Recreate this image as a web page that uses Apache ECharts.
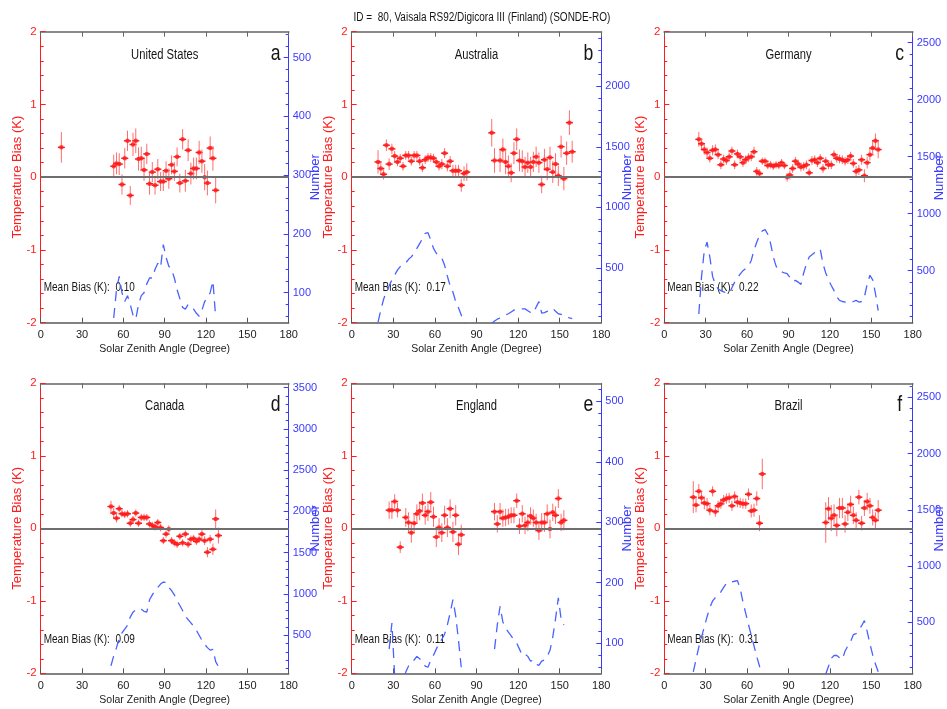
<!DOCTYPE html>
<html>
<head>
<meta charset="utf-8">
<script src="https://cdn.jsdelivr.net/npm/echarts@6/dist/echarts.min.js"></script>
<style>
  html, body { margin: 0; padding: 0; background: #ffffff; }
  #chart { width: 947px; height: 709px; }
</style>
</head>
<body>
<div id="chart"></div>
<script>
// ---- Figure text ----
const figureTitle = 'ID =  80, Vaisala RS92/Digicora III (Finland) (SONDE-RO)';
const panelNames = ['United States', 'Australia', 'Germany', 'Canada', 'England', 'Brazil'];
const panelLetters = ['a', 'b', 'c', 'd', 'e', 'f'];
const meanBias = ['0.10', '0.17', '0.22', '0.09', '0.11', '0.31'];

// ---- United States ----
const usAngle = [15, 53, 55, 57, 59, 61, 63, 65, 67, 69, 71, 73, 75, 77, 79, 81, 83, 85, 87, 89, 91, 93, 95, 97, 99, 101, 103, 105, 107, 109, 111, 113, 115, 117, 119, 121, 123, 125, 127];
const usBias = [0.41, 0.15, 0.19, 0.18, -0.10, 0.26, 0.50, -0.25, 0.45, 0.50, 0.25, 0.26, 0.10, 0.32, -0.09, 0.07, -0.11, 0.11, -0.06, -0.06, 0.09, -0.02, 0.17, 0.08, 0.28, -0.08, 0.52, -0.05, 0.37, 0.05, 0.12, 0.12, 0.34, 0.22, 0.00, -0.08, 0.40, 0.26, -0.18];
const usErr = [0.21, 0.16, 0.15, 0.15, 0.14, 0.14, 0.14, 0.13, 0.16, 0.17, 0.16, 0.16, 0.15, 0.14, 0.15, 0.14, 0.13, 0.14, 0.13, 0.13, 0.13, 0.14, 0.13, 0.13, 0.13, 0.13, 0.14, 0.15, 0.15, 0.15, 0.15, 0.15, 0.16, 0.16, 0.18, 0.17, 0.16, 0.17, 0.18];
const usNumAngle = [53, 55, 57, 59, 61, 63, 65, 67, 69, 71, 73, 75, 77, 79, 81, 83, 85, 87, 89, 91, 93, 95, 97, 99, 101, 103, 105, 107, 109, 111, 113, 115, 117, 119, 121, 123, 125, 127];
const usNum = [57, 105, 128, 100, 85, 95, 80, 62, 55, 80, 95, 100, 115, 125, 125, 140, 150, 143, 182, 160, 145, 140, 125, 105, 90, 75, 72, 80, 75, 72, 65, 60, 70, 85, 92, 100, 120, 58];
const usNumTicks = [100, 200, 300, 400, 500];
const usNumRange = [49, 544];

// ---- Australia ----
const ausAngle = [19, 21, 23, 25, 27, 29, 31, 33, 35, 37, 39, 41, 43, 45, 47, 49, 51, 53, 55, 57, 59, 61, 63, 65, 67, 69, 71, 73, 75, 77, 79, 81, 83,
  101, 103, 107, 109, 111, 113, 115, 117, 119, 121, 123, 125, 127, 129, 131, 133, 135, 137, 139, 141, 143, 145, 147, 149, 151, 153, 155, 157, 159];
const ausBias = [0.21, 0.12, 0.04, 0.44, 0.18, 0.39, 0.29, 0.21, 0.26, 0.15, 0.30, 0.30, 0.22, 0.30, 0.30, 0.22, 0.13, 0.24, 0.27, 0.27, 0.26, 0.21, 0.15, 0.18, 0.33, 0.15, 0.22, 0.09, 0.09, 0.09, -0.11, 0.05, 0.07,
  0.61, 0.23, 0.23, 0.38, 0.21, 0.15, 0.06, 0.33, 0.52, 0.23, 0.22, 0.14, 0.20, 0.14, 0.21, 0.28, 0.20, -0.10, 0.24, 0.11, 0.27, 0.07, 0.18, 0.02, 0.42, -0.02, 0.33, 0.75, 0.35];
const ausErr = [0.16, 0.09, 0.07, 0.08, 0.08, 0.07, 0.07, 0.06, 0.06, 0.06, 0.06, 0.06, 0.06, 0.06, 0.06, 0.06, 0.06, 0.06, 0.06, 0.06, 0.06, 0.06, 0.06, 0.07, 0.07, 0.07, 0.07, 0.08, 0.08, 0.08, 0.09, 0.10, 0.12,
  0.19, 0.17, 0.16, 0.15, 0.17, 0.15, 0.13, 0.15, 0.15, 0.15, 0.15, 0.14, 0.14, 0.14, 0.14, 0.14, 0.14, 0.12, 0.15, 0.15, 0.15, 0.15, 0.15, 0.14, 0.15, 0.16, 0.16, 0.17, 0.15];
const ausNumAngle = [19, 21, 23, 25, 27, 29, 31, 33, 35, 37, 39, 41, 43, 45, 47, 49, 51, 53, 55, 57, 59, 61, 63, 65, 67, 69, 71, 73, 75, 77, 79, 81, 83, 92,
  101, 103, 105, 107, 109, 111, 113, 115, 117, 119, 121, 123, 125, 127, 129, 131, 133, 135, 137, 139, 141, 143, 145, 147, 149, 151, 153, 155, 157, 159];
const ausNum = [50, 150, 240, 300, 350, 400, 440, 480, 510, 520, 540, 570, 590, 620, 660, 700, 740, 785, 790, 730, 660, 620, 600, 580, 520, 430, 350, 300, 220, 170, 110, 50, 20, null,
  40, 60, 75, 85, 100, 110, 120, 135, 150, 155, 155, 160, 160, 145, 130, 125, 175, 220, 125, 130, 140, 150, 165, 140, 120, 115, 100, 95, 85, 80];
const ausNumTicks = [500, 1000, 1500, 2000];
const ausNumRange = [46, 2451];

// ---- Germany ----
const gerAngle = [25, 27, 29, 31, 33, 35, 37, 39, 41, 43, 45, 47, 49, 51, 53, 55, 57, 59, 61, 63, 65, 67, 69, 71, 73, 75, 77, 79, 81, 83, 85, 87, 89, 91, 93, 95, 97, 99, 101, 103, 105, 107, 109, 111, 113, 115, 117, 119, 121, 123, 125, 127, 129, 131, 133, 135, 137, 139, 141, 143, 145, 147, 149, 151, 153, 155];
const gerBias = [0.52, 0.46, 0.38, 0.34, 0.26, 0.37, 0.38, 0.31, 0.17, 0.25, 0.23, 0.28, 0.36, 0.17, 0.32, 0.28, 0.20, 0.24, 0.27, 0.28, 0.35, 0.08, 0.05, 0.22, 0.22, 0.16, 0.17, 0.15, 0.17, 0.16, 0.20, 0.16, 0.00, 0.03, 0.12, 0.22, 0.18, 0.14, 0.15, 0.17, 0.06, 0.23, 0.24, 0.20, 0.26, 0.12, 0.22, 0.17, 0.17, 0.31, 0.26, 0.25, 0.24, 0.22, 0.24, 0.29, 0.19, 0.08, 0.10, 0.24, 0.02, 0.20, 0.31, 0.40, 0.50, 0.38];
const gerErr = [0.10, 0.08, 0.07, 0.07, 0.06, 0.07, 0.07, 0.06, 0.06, 0.06, 0.06, 0.06, 0.06, 0.06, 0.06, 0.06, 0.06, 0.06, 0.06, 0.06, 0.07, 0.06, 0.06, 0.05, 0.05, 0.05, 0.05, 0.05, 0.05, 0.05, 0.05, 0.05, 0.06, 0.06, 0.06, 0.06, 0.06, 0.06, 0.06, 0.06, 0.06, 0.06, 0.06, 0.06, 0.06, 0.06, 0.06, 0.06, 0.06, 0.06, 0.06, 0.06, 0.06, 0.06, 0.06, 0.06, 0.06, 0.07, 0.07, 0.07, 0.09, 0.08, 0.08, 0.09, 0.10, 0.12];
const gerNumAngle = gerAngle;
const gerNum = [120, 450, 680, 750, 620, 450, 380, 340, 325, 315, 305, 300, 350, 400, 440, 470, 500, 520, 540, 590, 680, 750, 810, 850, 860, 820, 740, 620, 540, 500, 490, 480, 475, 440, 405, 415, 400, 380, 480, 560, 620, 640, 660, 680, 688, 560, 480, 420, 370, 325, 270, 240, 230, 225, 220, 220, 230, 240, 225, 230, 270, 380, 460, 420, 300, 150];
const gerNumTicks = [500, 1000, 1500, 2000, 2500];
const gerNumRange = [44, 2596];

// ---- Canada ----
const canAngle = [51, 53, 55, 57, 59, 61, 63, 65, 67, 69, 71, 73, 75, 77, 79, 81, 83, 85, 87, 89, 91, 93, 95, 97, 99, 101, 103, 105, 107, 109, 111, 113, 115, 117, 119, 121, 123, 125, 127, 129];
const canBias = [0.30, 0.21, 0.14, 0.27, 0.20, 0.19, 0.20, 0.07, 0.12, 0.21, 0.07, 0.15, 0.15, 0.15, 0.06, 0.04, 0.02, 0.08, 0.01, -0.17, -0.08, -0.01, -0.17, -0.20, -0.22, -0.11, -0.20, -0.08, -0.22, -0.15, -0.14, -0.18, -0.15, -0.08, -0.17, -0.33, -0.15, -0.29, 0.13, -0.10];
const canErr = [0.08, 0.07, 0.06, 0.05, 0.05, 0.05, 0.05, 0.05, 0.05, 0.05, 0.05, 0.05, 0.05, 0.05, 0.05, 0.05, 0.05, 0.05, 0.05, 0.05, 0.05, 0.05, 0.05, 0.05, 0.05, 0.05, 0.05, 0.05, 0.05, 0.05, 0.05, 0.05, 0.05, 0.06, 0.06, 0.07, 0.06, 0.08, 0.13, 0.11];
const canNumAngle = canAngle;
const canNum = [130, 250, 350, 460, 530, 575, 620, 720, 780, 810, 825, 815, 790, 780, 930, 990, 1040, 1080, 1120, 1145, 1140, 1080, 1040, 990, 920, 860, 800, 730, 690, 650, 610, 560, 500, 440, 390, 350, 320, 330, 180, 120];
const canNumTicks = [500, 1000, 1500, 2000, 2500, 3000, 3500];
const canNumRange = [39, 3553];

// ---- England ----
const engAngle = [27, 29, 31, 33, 35, 39, 41, 43, 45, 47, 49, 51, 53, 55, 57, 59, 61, 63, 65, 67, 69, 71, 73, 75, 77, 79,
  103, 105, 107, 109, 111, 113, 115, 117, 119, 121, 123, 125, 127, 129, 131, 133, 135, 137, 139, 141, 143, 145, 147, 149, 151, 153];
const engBias = [0.25, 0.25, 0.37, 0.25, -0.26, 0.15, 0.08, -0.06, 0.07, 0.20, 0.24, 0.35, 0.18, 0.23, 0.36, 0.16, -0.12, 0.01, -0.06, 0.18, 0.01, 0.27, -0.05, 0.18, -0.22, -0.09,
  0.23, 0.06, 0.23, 0.14, 0.15, 0.16, 0.18, 0.18, 0.38, 0.03, 0.20, 0.04, 0.08, 0.17, 0.14, 0.08, -0.03, 0.08, 0.08, 0.20, -0.01, 0.22, 0.18, 0.41, 0.08, 0.11];
const engErr = [0.12, 0.12, 0.10, 0.10, 0.08, 0.13, 0.14, 0.14, 0.13, 0.13, 0.13, 0.13, 0.13, 0.13, 0.14, 0.14, 0.14, 0.13, 0.13, 0.13, 0.13, 0.13, 0.14, 0.14, 0.15, 0.14,
  0.12, 0.12, 0.12, 0.12, 0.12, 0.11, 0.11, 0.11, 0.10, 0.11, 0.12, 0.12, 0.12, 0.12, 0.12, 0.12, 0.13, 0.13, 0.13, 0.13, 0.13, 0.12, 0.12, 0.13, 0.12, 0.14];
const engNumAngle = [27, 29, 31, 33, 35, 37, 39, 41, 43, 45, 47, 49, 51, 53, 55, 57, 59, 61, 63, 65, 67, 69, 71, 73, 75, 77, 79, 91,
  103, 105, 107, 109, 111, 113, 115, 117, 119, 121, 123, 125, 127, 129, 131, 133, 135, 137, 139, 141, 143, 145, 147, 149, 151, 153];
const engNum = [90, 133, 45, 35, 30, 35, 52, 62, 66, 72, 78, 74, 70, 62, 60, 72, 80, 90, 100, 106, 115, 130, 150, 172, 145, 105, 60, null,
  90, 130, 161, 135, 125, 118, 112, 105, 100, 90, 80, 82, 78, 70, 72, 65, 63, 70, 72, 78, 88, 110, 140, 175, 140, 130];
const engNumTicks = [100, 200, 300, 400, 500];
const engNumRange = [50, 530];

// ---- Brazil ----
const braAngle = [21, 23, 25, 27, 29, 31, 33, 35, 37, 39, 41, 43, 45, 47, 49, 51, 53, 55, 57, 59, 61, 63, 65, 67, 69, 71,
  117, 119, 121, 123, 125, 127, 129, 131, 133, 135, 137, 139, 141, 143, 145, 147, 149, 151, 153, 155];
const braBias = [0.43, 0.32, 0.51, 0.42, 0.35, 0.34, 0.25, 0.51, 0.23, 0.31, 0.34, 0.39, 0.41, 0.42, 0.31, 0.44, 0.36, 0.35, 0.34, 0.34, 0.47, 0.24, 0.25, 0.41, 0.07, 0.75,
  0.08, 0.27, 0.14, 0.18, 0.04, 0.28, 0.28, 0.06, 0.22, 0.33, 0.18, 0.11, 0.43, 0.07, 0.28, 0.37, 0.31, 0.15, 0.11, 0.25];
const braErr = [0.22, 0.10, 0.10, 0.09, 0.09, 0.08, 0.07, 0.07, 0.07, 0.07, 0.07, 0.07, 0.07, 0.07, 0.07, 0.07, 0.07, 0.07, 0.07, 0.07, 0.08, 0.09, 0.09, 0.10, 0.11, 0.21,
  0.28, 0.16, 0.18, 0.15, 0.15, 0.14, 0.14, 0.12, 0.12, 0.12, 0.12, 0.11, 0.10, 0.10, 0.11, 0.12, 0.11, 0.11, 0.11, 0.14];
const braNumAngle = [21, 23, 25, 27, 29, 31, 33, 35, 37, 39, 41, 43, 45, 47, 49, 51, 53, 55, 57, 59, 61, 63, 65, 67, 69, 71, 94,
  117, 119, 121, 123, 125, 127, 129, 131, 133, 135, 137, 139, 141, 143, 145, 147, 149, 151, 153, 155];
const braNum = [60, 170, 280, 370, 460, 550, 630, 690, 720, 745, 770, 810, 845, 860, 860, 865, 870, 800, 680, 580, 480, 385, 290, 195, 110, 40, null,
  40, 110, 180, 205, 205, 185, 170, 245, 290, 330, 390, 400, 430, 470, 515, 420, 310, 210, 130, 60];
const braNumTicks = [500, 1000, 1500, 2000, 2500];
const braNumRange = [47, 2624];

// ---- Bias axis and angle axis ----
const angleRange = [0, 180];
const angleStep = 30;
const biasRange = [-2, 2];
const biasStep = 1;

const panels = [
  { angle: usAngle,  bias: usBias,  err: usErr,  numAngle: usNumAngle,  num: usNum,  ticks: usNumTicks,  range: usNumRange },
  { angle: ausAngle, bias: ausBias, err: ausErr, numAngle: ausNumAngle, num: ausNum, ticks: ausNumTicks, range: ausNumRange },
  { angle: gerAngle, bias: gerBias, err: gerErr, numAngle: gerNumAngle, num: gerNum, ticks: gerNumTicks, range: gerNumRange },
  { angle: canAngle, bias: canBias, err: canErr, numAngle: canNumAngle, num: canNum, ticks: canNumTicks, range: canNumRange },
  { angle: engAngle, bias: engBias, err: engErr, numAngle: engNumAngle, num: engNum, ticks: engNumTicks, range: engNumRange },
  { angle: braAngle, bias: braBias, err: braErr, numAngle: braNumAngle, num: braNum, ticks: braNumTicks, range: braNumRange }
];

// ---- Layout and styling ----
const FONT = '"Liberation Sans", Arial, sans-serif';
const RED = '#ff1c1c';
const BAR_RED = '#ff6d6d';
const BLUE = '#3a3aff';
const LINE_BLUE = '#4862ff';
const TEXT = '#151515';
const SQUEEZE = 0.8;   // horizontal squeeze for annotation text
const columns = [
  { left: 40.7, width: 248 },
  { left: 351.7, width: 249.6 },
  { left: 664.3, width: 248.4 }
];
const rows = [
  { top: 31.7, height: 291 },
  { top: 383.3, height: 290 }
];

function minorValues(ticks, range) {
  const step = (ticks[1] - ticks[0]) / 5;
  const out = [];
  for (let v = Math.ceil(range[0] / step) * step; v <= range[1]; v += step) {
    const isMajor = ticks.some(t => Math.abs(t - v) < step * 0.01);
    if (!isMajor) out.push(v);
  }
  return out;
}

function note(text, x, y, size, align) {
  return {
    type: 'text', x: x, y: y, scaleX: SQUEEZE, scaleY: 1, silent: true,
    style: {
      text: text, x: 0, y: 0, font: size + 'px ' + FONT, fill: TEXT,
      align: align, verticalAlign: 'middle', textAlign: align, textVerticalAlign: 'middle'
    }
  };
}

const grid = [], xAxis = [], yAxis = [], series = [], graphic = [];

graphic.push(note(figureTitle, 482, 18, 12.5, 'center'));

panels.forEach((p, i) => {
  const col = columns[i % 3], row = rows[Math.floor(i / 3)];
  grid.push({ left: col.left, top: row.top, width: col.width, height: row.height, containLabel: false });

  // bottom angle axis
  xAxis.push({
    gridIndex: i, type: 'value', position: 'bottom', min: angleRange[0], max: angleRange[1], interval: angleStep,
    axisLine: { show: true, onZero: false, lineStyle: { color: '#5a5a5a', width: 1.5 } },
    axisTick: { show: true, inside: true, length: 5, lineStyle: { color: '#555' } },
    axisLabel: { fontFamily: FONT, fontSize: 11, color: '#222', margin: 7 },
    splitLine: { show: false },
    name: 'Solar Zenith Angle (Degree)', nameLocation: 'middle', nameGap: 21, nameMoveOverlap: false,
    nameTextStyle: { fontFamily: FONT, fontSize: 10.5, color: '#222' }
  });
  // top frame
  xAxis.push({
    gridIndex: i, type: 'value', position: 'top', min: angleRange[0], max: angleRange[1], interval: angleStep,
    axisLine: { show: true, onZero: false, lineStyle: { color: '#8a8a8a', width: 2 } },
    axisTick: { show: true, inside: true, length: 5, lineStyle: { color: '#666' } },
    axisLabel: { show: false }, splitLine: { show: false }
  });

  // temperature bias axis
  yAxis.push({
    gridIndex: i, type: 'value', position: 'left', min: biasRange[0], max: biasRange[1], interval: biasStep,
    axisLine: { show: true, onZero: false, lineStyle: { color: RED, width: 1 } },
    axisTick: { show: true, inside: true, length: 5, lineStyle: { color: RED } },
    minorTick: { show: true, splitNumber: 5, length: 3, lineStyle: { color: RED } },
    axisLabel: { fontFamily: FONT, fontSize: 11.5, color: RED, margin: 4 },
    splitLine: { show: false },
    name: 'Temperature Bias (K)', nameLocation: 'middle', nameRotate: 90, nameGap: 17, nameMoveOverlap: false,
    nameTextStyle: { fontFamily: FONT, fontSize: 13, color: RED }
  });
  // sounding count axis
  yAxis.push({
    gridIndex: i, type: 'value', position: 'right', min: p.range[0], max: p.range[1],
    axisLine: { show: true, onZero: false, lineStyle: { color: BLUE, width: 1 } },
    axisTick: { show: true, inside: true, length: 5, customValues: p.ticks, lineStyle: { color: BLUE } },
    axisLabel: { fontFamily: FONT, fontSize: 11, color: BLUE, margin: 4, customValues: p.ticks, formatter: v => String(v) },
    splitLine: { show: false },
    name: 'Number', nameLocation: 'middle', nameRotate: 90, nameGap: 20, nameMoveOverlap: false,
    nameTextStyle: { fontFamily: FONT, fontSize: 13, color: BLUE }
  });
  // minor ticks of the count axis
  yAxis.push({
    gridIndex: i, type: 'value', position: 'right', min: p.range[0], max: p.range[1],
    axisLine: { show: false, onZero: false },
    axisTick: { show: true, inside: true, length: 3, customValues: minorValues(p.ticks, p.range), lineStyle: { color: BLUE } },
    axisLabel: { show: false }, splitLine: { show: false }
  });

  const points = p.angle.map((a, k) => [a, p.bias[k], p.err[k]]);

  // sounding counts (dashed)
  series.push({
    type: 'line', xAxisIndex: 2 * i, yAxisIndex: 3 * i + 1,
    data: p.numAngle.map((a, k) => [a, p.num[k]]),
    symbol: 'none', showSymbol: false, connectNulls: false, clip: true, z: 2,
    lineStyle: { color: LINE_BLUE, width: 1.3, type: [10, 7] }
  });

  // error bars with a short horizontal stroke at each mean
  series.push({
    type: 'custom', xAxisIndex: 2 * i, yAxisIndex: 3 * i, z: 3,
    data: points, encode: { x: 0, y: 1 },
    renderItem: function (params, api) {
      const x = api.value(0), y = api.value(1), e = api.value(2);
      const hi = api.coord([x, y + e]);
      const lo = api.coord([x, y - e]);
      const c = api.coord([x, y]);
      return {
        type: 'group',
        children: [
          { type: 'line', shape: { x1: hi[0], y1: hi[1], x2: lo[0], y2: lo[1] }, style: { stroke: BAR_RED, lineWidth: 1 } },
          { type: 'line', shape: { x1: c[0] - 3.5, y1: c[1], x2: c[0] + 3.5, y2: c[1] }, style: { stroke: RED, lineWidth: 1.5 } }
        ]
      };
    }
  });

  // mean bias markers and zero reference
  series.push({
    type: 'scatter', xAxisIndex: 2 * i, yAxisIndex: 3 * i, z: 4,
    data: points.map(d => [d[0], d[1]]),
    symbol: 'circle', symbolSize: 4.5, itemStyle: { color: RED },
    markLine: {
      silent: true, symbol: ['none', 'none'], label: { show: false },
      lineStyle: { color: '#6e6e6e', width: 2, type: 'solid' },
      data: [{ yAxis: 0 }]
    }
  });

  // panel annotations
  graphic.push(note(panelNames[i], col.left + col.width / 2, row.top + 23, 14, 'center'));
  graphic.push(note(panelLetters[i], col.left + col.width - 13, row.top + 22, 22, 'center'));
  graphic.push(note('Mean Bias (K):  ' + meanBias[i], col.left + 3, row.top + 256, 12.5, 'left'));
});

const chart = echarts.init(document.getElementById('chart'), null, { renderer: 'canvas' });
chart.setOption({
  animation: false,
  backgroundColor: '#ffffff',
  grid, xAxis, yAxis, series, graphic
});
</script>
</body>
</html>
